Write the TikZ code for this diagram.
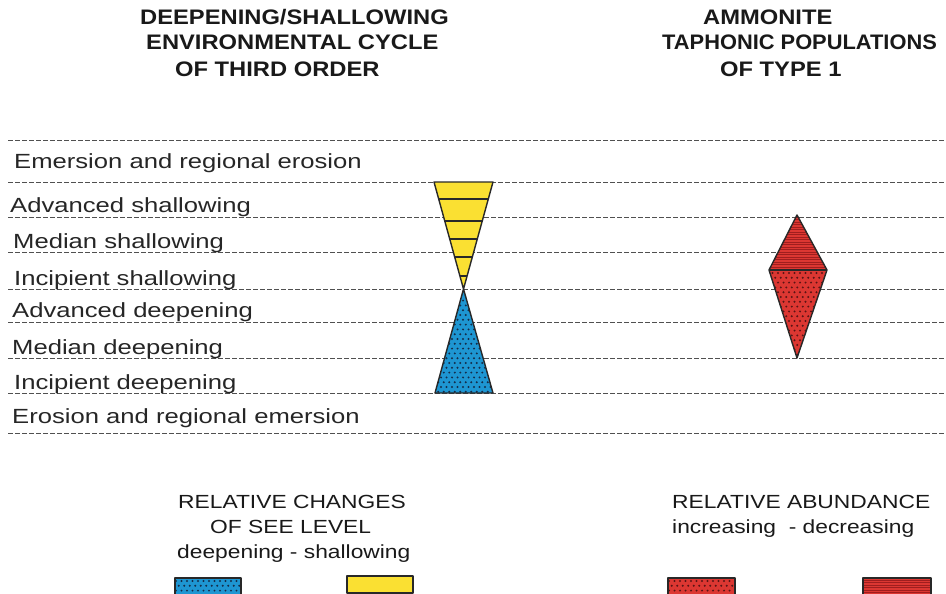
\documentclass[tikz,border=0pt]{standalone}
\usepackage{fontspec}
\setmainfont{Liberation Sans}
\newfontfamily\rowfont[FakeStretch=1.25]{Liberation Sans}
\newfontfamily\hdrfont[FakeStretch=1.13]{Liberation Sans}
\newfontfamily\hdrfontn[FakeStretch=1.04]{Liberation Sans}
\newfontfamily\legfont[FakeStretch=1.2]{Liberation Sans}
\definecolor{yel}{RGB}{250,224,50}
\definecolor{blu}{RGB}{30,150,210}
\definecolor{redf}{RGB}{220,55,50}
\definecolor{reds}{RGB}{160,30,30}
\definecolor{dotb}{RGB}{20,45,75}
\definecolor{dotr}{RGB}{90,20,20}
\definecolor{outl}{RGB}{40,40,40}
\definecolor{dashcol}{RGB}{80,80,80}
\begin{document}
\begin{tikzpicture}[x=1pt,y=-1pt,
  rowlbl/.style={anchor=base west, inner sep=0, font=\rowfont\fontsize{20.5}{24}\selectfont, text=black!85},
  hdr/.style={anchor=base west, inner sep=0, font=\hdrfont\bfseries\fontsize{21}{25}\selectfont, text=black!90},
  leg/.style={anchor=base west, inner sep=0, font=\legfont\fontsize{19}{23}\selectfont, text=black!90},
  level/.style={draw=dashcol, line width=0.9pt, dash pattern=on 4.5pt off 2.5pt},
  outline/.style={draw=outl, line width=1.4pt, line join=round},
  stripe/.style={draw=reds, line width=0.6pt}]
\useasboundingbox (0,0) rectangle (946,594);
\clip (0,0) rectangle (946,594);

% level lines
\foreach \y in {140,182,217,252,289,322,358,393,433}
  \draw[level] (8,\y) -- (946,\y);

% headers
\node[hdr] (h1) at (140,25) {DEEPENING/SHALLOWING};
\node[hdr] (h2) at (146,50) {ENVIRONMENTAL CYCLE};
\node[hdr] (h3) at (175,77) {OF THIRD ORDER};
\node[hdr] (r1) at (703,25) {AMMONITE};
\node[hdr, font=\hdrfontn\bfseries\fontsize{21}{25}\selectfont] (r2) at (662,50) {TAPHONIC POPULATIONS};
\node[hdr] (r3) at (720,77) {OF TYPE 1};

% row labels
\node[rowlbl] (l1) at (14,168) {Emersion and regional erosion};
\node[rowlbl] (l2) at (10,212) {Advanced shallowing};
\node[rowlbl] (l3) at (13,248) {Median shallowing};
\node[rowlbl] (l4) at (14,285) {Incipient shallowing};
\node[rowlbl] (l5) at (12,317) {Advanced deepening};
\node[rowlbl] (l6) at (12,354) {Median deepening};
\node[rowlbl] (l7) at (14,389) {Incipient deepening};
\node[rowlbl] (l8) at (12,423) {Erosion and regional emersion};

% yellow triangle
\coordinate (yl) at (434,182);
\coordinate (yr) at (493,182);
\coordinate (ap) at (463.5,289);
\fill[yel] (yl) -- (yr) -- (ap) -- cycle;
\foreach \y in {199,221,239,257,276}
  \draw[outl, line width=1.3pt] ({463.5-(289-\y)*29.5/107},\y) -- ({463.5+(289-\y)*29.5/107},\y);
\draw[outline] (yl) -- (yr) -- (ap) -- cycle;

% blue triangle
\coordinate (bl) at (435,393);
\coordinate (br) at (493,393);
\fill[blu] (ap) -- (br) -- (bl) -- cycle;
\begin{scope}
  \clip (ap) -- (br) -- (bl) -- cycle;
  \foreach \r in {0,...,22}
    \foreach \c in {0,...,12}
      \fill[dotb] ({430+\c*5.5+mod(\r,2)*2.75},{291+\r*4.8}) circle (1.1);
\end{scope}
\draw[outline] (ap) -- (br) -- (bl) -- cycle;

% red diamond
\coordinate (dt) at (797,215);
\coordinate (dl) at (769,270);
\coordinate (dr) at (827,270);
\coordinate (db) at (797,358);
\fill[redf] (dt) -- (dr) -- (db) -- (dl) -- cycle;
\begin{scope}
  \clip (dt) -- (dr) -- (dl) -- cycle;
  \foreach \y in {217,219.5,...,270}
    \draw[stripe] (765,\y) -- (830,\y);
\end{scope}
\begin{scope}
  \clip (dl) -- (dr) -- (db) -- cycle;
  \foreach \r in {0,...,18}
    \foreach \c in {0,...,11}
      \fill[dotr] ({767+\c*5.5+mod(\r,2)*2.75},{273+\r*4.8}) circle (1.1);
\end{scope}
\draw[outline] (dt) -- (dr) -- (db) -- (dl) -- cycle;
\draw[outline] (dl) -- (dr);

% bottom labels
\node[leg] (c1) at (178,508) {RELATIVE CHANGES};
\node[leg] (c2) at (210,533) {OF SEE LEVEL};
\node[leg] (c3) at (177,558) {deepening - shallowing};
\node[leg] (a1) at (672,508) {RELATIVE ABUNDANCE};
\node[leg] (a2) at (672,533) {increasing\ \ - decreasing};

% legend boxes
\fill[blu] (175,578) rectangle (241,598);
\begin{scope}
  \clip (175,578) rectangle (241,598);
  \foreach \r in {0,...,4}
    \foreach \c in {0,...,12}
      \fill[dotb] ({176+\c*5.5+mod(\r,2)*2.75},{581+\r*4.8}) circle (1.1);
\end{scope}
\draw[outline] (175,578) rectangle (241,598);

\fill[yel] (347,576) rectangle (413,593);
\draw[outline] (347,576) rectangle (413,593);

\fill[redf] (668,578) rectangle (735,598);
\begin{scope}
  \clip (668,578) rectangle (735,598);
  \foreach \r in {0,...,4}
    \foreach \c in {0,...,12}
      \fill[dotr] ({669+\c*5.5+mod(\r,2)*2.75},{581+\r*4.8}) circle (1.1);
\end{scope}
\draw[outline] (668,578) rectangle (735,598);

\fill[redf] (863,578) rectangle (931,598);
\begin{scope}
  \clip (863,578) rectangle (931,598);
  \foreach \y in {580,582.5,...,598}
    \draw[stripe] (860,\y) -- (935,\y);
\end{scope}
\draw[outline] (863,578) rectangle (931,598);
\end{tikzpicture}
\end{document}
